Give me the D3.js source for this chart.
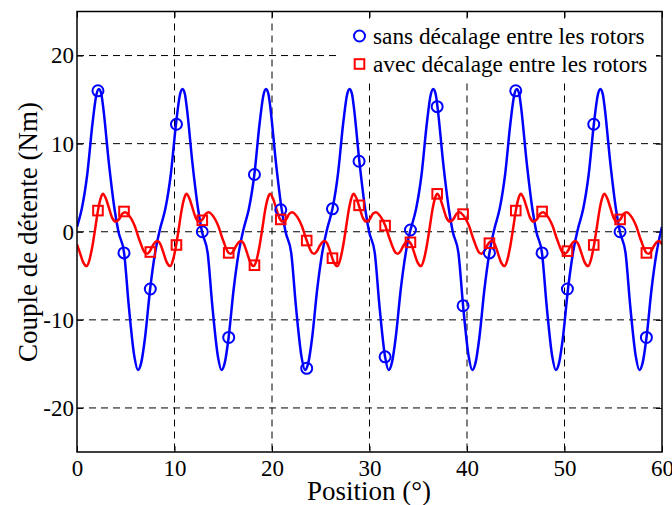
<!DOCTYPE html>
<html><head><meta charset="utf-8">
<script src="https://cdn.jsdelivr.net/npm/d3@7/dist/d3.min.js"></script>
<style>body{margin:0;background:#fff}svg{display:block}text{font-family:"Liberation Serif","Times New Roman",serif;fill:#000}</style>
</head><body>
<svg id="c" width="672" height="505"></svg>
<script>
// ---- data ----
const xTicks = [0, 10, 20, 30, 40, 50, 60];
const yTicks = [-20, -10, 0, 10, 20];
const xTitle = "Position (°)";
const yTitle = "Couple de détente (Nm)";
const seriesNames = ["sans décalage entre les rotors", "avec décalage entre les rotors"];

// continuous curve, "sans décalage" (blue)
const blueX = [
  0.00,0.49,1.05,1.60,2.00,2.25,2.50,2.68,3.25,3.86,4.25,4.83,5.31,5.89,6.25,6.60,6.98,7.50,8.01,8.49,
  8.57,9.06,9.62,10.17,10.57,10.82,11.07,11.25,11.82,12.43,12.82,13.40,13.88,14.46,14.82,15.17,15.55,16.07,16.58,17.06,
  17.14,17.63,18.19,18.74,19.14,19.39,19.64,19.82,20.39,21.00,21.39,21.97,22.45,23.03,23.39,23.74,24.12,24.64,25.15,25.63,
  25.71,26.20,26.76,27.31,27.71,27.96,28.21,28.39,28.96,29.57,29.96,30.54,31.02,31.60,31.96,32.31,32.69,33.21,33.72,34.20,
  34.29,34.78,35.34,35.89,36.29,36.54,36.79,36.97,37.54,38.15,38.54,39.12,39.60,40.18,40.54,40.89,41.27,41.79,42.30,42.78,
  42.86,43.35,43.91,44.46,44.86,45.11,45.36,45.54,46.11,46.72,47.11,47.69,48.17,48.75,49.11,49.46,49.84,50.36,50.87,51.35,
  51.43,51.92,52.48,53.03,53.43,53.68,53.93,54.11,54.68,55.29,55.68,56.26,56.74,57.32,57.68,58.03,58.41,58.93,59.44,59.92,
  60.00];
const blueY = [
  0.55,2.6,6.5,12.4,15.6,16.2,15.6,14.2,8.0,2.5,0.0,-2.4,-8.4,-14.2,-15.7,-14.8,-12.0,-6.5,-2.4,0.2,
  0.55,2.6,6.5,12.4,15.6,16.2,15.6,14.2,8.0,2.5,0.0,-2.4,-8.4,-14.2,-15.7,-14.8,-12.0,-6.5,-2.4,0.2,
  0.55,2.6,6.5,12.4,15.6,16.2,15.6,14.2,8.0,2.5,0.0,-2.4,-8.4,-14.2,-15.7,-14.8,-12.0,-6.5,-2.4,0.2,
  0.55,2.6,6.5,12.4,15.6,16.2,15.6,14.2,8.0,2.5,0.0,-2.4,-8.4,-14.2,-15.7,-14.8,-12.0,-6.5,-2.4,0.2,
  0.55,2.6,6.5,12.4,15.6,16.2,15.6,14.2,8.0,2.5,0.0,-2.4,-8.4,-14.2,-15.7,-14.8,-12.0,-6.5,-2.4,0.2,
  0.55,2.6,6.5,12.4,15.6,16.2,15.6,14.2,8.0,2.5,0.0,-2.4,-8.4,-14.2,-15.7,-14.8,-12.0,-6.5,-2.4,0.2,
  0.55,2.6,6.5,12.4,15.6,16.2,15.6,14.2,8.0,2.5,0.0,-2.4,-8.4,-14.2,-15.7,-14.8,-12.0,-6.5,-2.4,0.2,
  0.55];

// continuous curve, "avec décalage" (red)
const redX = [
  0.00,0.30,0.65,1.00,1.30,1.60,1.90,2.15,2.40,2.65,2.95,3.25,3.60,3.95,4.30,4.65,4.95,5.30,5.90,6.42,6.98,7.20,7.45,7.75,8.00,8.25,8.50,
  8.57,8.87,9.22,9.57,9.87,10.17,10.47,10.72,10.97,11.22,11.52,11.82,12.17,12.52,12.87,13.22,13.52,13.87,14.47,14.99,15.55,15.77,16.02,16.32,16.57,16.82,17.07,
  17.14,17.44,17.79,18.14,18.44,18.74,19.04,19.29,19.54,19.79,20.09,20.39,20.74,21.09,21.44,21.79,22.09,22.44,23.04,23.56,24.12,24.34,24.59,24.89,25.14,25.39,25.64,
  25.71,26.01,26.36,26.71,27.01,27.31,27.61,27.86,28.11,28.36,28.66,28.96,29.31,29.66,30.01,30.36,30.66,31.01,31.61,32.13,32.69,32.91,33.16,33.46,33.71,33.96,34.21,
  34.29,34.59,34.94,35.29,35.59,35.89,36.19,36.44,36.69,36.94,37.24,37.54,37.89,38.24,38.59,38.94,39.24,39.59,40.19,40.71,41.27,41.49,41.74,42.04,42.29,42.54,42.79,
  42.86,43.16,43.51,43.86,44.16,44.46,44.76,45.01,45.26,45.51,45.81,46.11,46.46,46.81,47.16,47.51,47.81,48.16,48.76,49.28,49.84,50.06,50.31,50.61,50.86,51.11,51.36,
  51.43,51.73,52.08,52.43,52.73,53.03,53.33,53.58,53.83,54.08,54.38,54.68,55.03,55.38,55.73,56.08,56.38,56.73,57.33,57.85,58.41,58.63,58.88,59.18,59.43,59.68,59.93,
  60.00];
const redY = [
  -1.45,-2.4,-3.5,-3.9,-3.1,-1.5,0.6,2.4,3.7,4.3,3.8,2.8,1.6,1.15,1.4,2.05,2.2,1.9,0.7,-1.0,-2.4,-2.5,-2.25,-1.6,-1.2,-1.05,-1.3,
  -1.45,-2.4,-3.5,-3.9,-3.1,-1.5,0.6,2.4,3.7,4.3,3.8,2.8,1.6,1.15,1.4,2.05,2.2,1.9,0.7,-1.0,-2.4,-2.5,-2.25,-1.6,-1.2,-1.05,-1.3,
  -1.45,-2.4,-3.5,-3.9,-3.1,-1.5,0.6,2.4,3.7,4.3,3.8,2.8,1.6,1.15,1.4,2.05,2.2,1.9,0.7,-1.0,-2.4,-2.5,-2.25,-1.6,-1.2,-1.05,-1.3,
  -1.45,-2.4,-3.5,-3.9,-3.1,-1.5,0.6,2.4,3.7,4.3,3.8,2.8,1.6,1.15,1.4,2.05,2.2,1.9,0.7,-1.0,-2.4,-2.5,-2.25,-1.6,-1.2,-1.05,-1.3,
  -1.45,-2.4,-3.5,-3.9,-3.1,-1.5,0.6,2.4,3.7,4.3,3.8,2.8,1.6,1.15,1.4,2.05,2.2,1.9,0.7,-1.0,-2.4,-2.5,-2.25,-1.6,-1.2,-1.05,-1.3,
  -1.45,-2.4,-3.5,-3.9,-3.1,-1.5,0.6,2.4,3.7,4.3,3.8,2.8,1.6,1.15,1.4,2.05,2.2,1.9,0.7,-1.0,-2.4,-2.5,-2.25,-1.6,-1.2,-1.05,-1.3,
  -1.45,-2.4,-3.5,-3.9,-3.1,-1.5,0.6,2.4,3.7,4.3,3.8,2.8,1.6,1.15,1.4,2.05,2.2,1.9,0.7,-1.0,-2.4,-2.5,-2.25,-1.6,-1.2,-1.05,-1.3,
  -1.45];

// marker positions and values
const markerX = [2.15,4.82,7.52,10.2,12.85,15.56,18.2,20.9,23.56,26.2,28.93,31.6,34.2,36.94,39.6,42.3,45.0,47.7,50.3,53.0,55.7,58.4];
const blueMarkers = [16.0,-2.4,-6.5,12.2,0.0,-12.0,6.5,2.5,-15.5,2.6,8.0,-14.2,0.2,14.2,-8.4,-2.4,16.0,-2.4,-6.5,12.2,0.0,-12.0];
const redMarkers = [2.4,2.3,-2.3,-1.5,1.3,-2.4,-3.8,1.4,-1.0,-3.0,3.0,0.7,-1.2,4.3,2.0,-1.3,2.4,2.3,-2.2,-1.5,1.4,-2.4];

// ---- drawing ----
const BLUE = "#0000ff", RED = "#ff0000";
const FONT = "'Liberation Serif','Times New Roman',serif";
const L = 77, R = 662, T = 11.5, B = 452;
const svg = d3.select("#c");
const x = d3.scaleLinear().domain([0, 60]).range([L, R]);
const y = d3.scaleLinear().domain([-25, 25]).range([B, T]);
const fmt = d => String(d);

svg.append("defs").append("clipPath").attr("id", "clip")
  .append("rect").attr("x", L).attr("y", T).attr("width", R - L).attr("height", B - T);

// grid
const grid = svg.append("g");
grid.selectAll("line.v").data(xTicks.slice(1, -1)).join("line")
  .attr("x1", d => x(d)).attr("x2", d => x(d)).attr("y1", T).attr("y2", B)
  .attr("stroke", "#000").attr("stroke-width", 1).attr("stroke-dasharray", "7,5");
grid.selectAll("line.h").data(yTicks).join("line")
  .attr("y1", d => y(d)).attr("y2", d => y(d)).attr("x1", L).attr("x2", R)
  .attr("stroke", "#000").attr("stroke-width", 1).attr("stroke-dasharray", "7,5");

// axes (ticks inward, box)
const ax = svg.append("g");
ax.append("g").attr("transform", `translate(0,${B})`)
  .call(d3.axisBottom(x).tickValues(xTicks).tickSize(-6).tickPadding(8).tickFormat(fmt))
  .call(g => { g.select(".domain").remove(); });
ax.append("g").attr("transform", `translate(${L},0)`)
  .call(d3.axisLeft(y).tickValues(yTicks).tickSize(-6).tickPadding(3).tickFormat(fmt))
  .call(g => { g.select(".domain").remove(); });
ax.append("g").attr("transform", `translate(0,${T})`)
  .call(d3.axisTop(x).tickValues(xTicks).tickSize(-6).tickFormat(""))
  .call(g => { g.select(".domain").remove(); });
ax.append("g").attr("transform", `translate(${R},0)`)
  .call(d3.axisRight(y).tickValues(yTicks).tickSize(-6).tickFormat(""))
  .call(g => { g.select(".domain").remove(); });
ax.selectAll(".tick line").attr("stroke", "#000").attr("stroke-width", 1);
ax.selectAll(".tick text").attr("font-family", FONT).attr("font-size", 23).attr("fill", "#000");

// curves
const plot = svg.append("g").attr("clip-path", "url(#clip)");
const line = d3.line().x(d => x(d[0])).y(d => y(d[1])).curve(d3.curveMonotoneX);
plot.append("path").datum(d3.zip(blueX, blueY)).attr("d", line)
  .attr("fill", "none").attr("stroke", BLUE).attr("stroke-width", 2.5);
plot.append("path").datum(d3.zip(redX, redY)).attr("d", line)
  .attr("fill", "none").attr("stroke", RED).attr("stroke-width", 2.5);
plot.selectAll("circle.m").data(d3.zip(markerX, blueMarkers)).join("circle")
  .attr("cx", d => x(d[0])).attr("cy", d => y(d[1])).attr("r", 5.5)
  .attr("fill", "none").attr("stroke", BLUE).attr("stroke-width", 2);
plot.selectAll("rect.m").data(d3.zip(markerX, redMarkers)).join("rect")
  .attr("x", d => x(d[0]) - 4.8).attr("y", d => y(d[1]) - 4.8).attr("width", 9.6).attr("height", 9.6)
  .attr("fill", "none").attr("stroke", RED).attr("stroke-width", 2);

// frame
svg.append("rect").attr("x", L).attr("y", T).attr("width", R - L).attr("height", B - T)
  .attr("fill", "none").attr("stroke", "#000").attr("stroke-width", 1.5);

// legend
const lg = svg.append("g");
lg.append("rect").attr("x", 338).attr("y", 21).attr("width", 318).attr("height", 59).attr("fill", "#fff");
lg.append("circle").attr("cx", 359.5).attr("cy", 36).attr("r", 5.5)
  .attr("fill", "none").attr("stroke", BLUE).attr("stroke-width", 2);
lg.append("rect").attr("x", 359.5 - 4.8).attr("y", 64 - 4.8).attr("width", 9.6).attr("height", 9.6)
  .attr("fill", "none").attr("stroke", RED).attr("stroke-width", 2);
lg.selectAll("text").data(seriesNames).join("text")
  .attr("x", 373).attr("y", (d, i) => 43.5 + i * 28.2).attr("font-family", FONT)
  .attr("font-size", 23.3).text(d => d);

// titles
svg.append("text").attr("x", 369).attr("y", 500).attr("text-anchor", "middle")
  .attr("font-family", FONT).attr("font-size", 27).text(xTitle);
svg.append("text").attr("transform", "translate(37,232) rotate(-90)").attr("text-anchor", "middle")
  .attr("font-family", FONT).attr("font-size", 27).text(yTitle);
</script>
</body></html>
